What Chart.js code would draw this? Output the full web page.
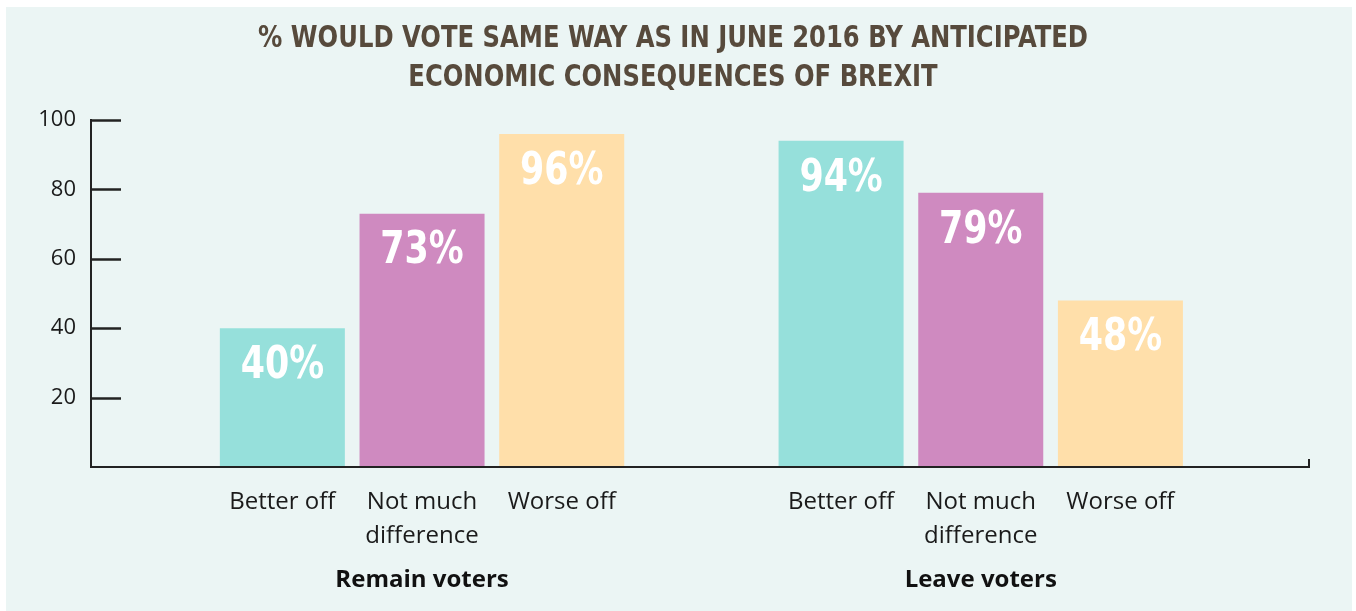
<!DOCTYPE html>
<html>
<head>
<meta charset="utf-8">
<script src="https://cdn.jsdelivr.net/npm/chart.js@4.4.1/dist/chart.umd.min.js"></script>
<style>
  html, body { margin: 0; padding: 0; background: #ffffff; }
  #wrap { width: 1356px; height: 611px; position: relative; }
</style>
</head>
<body>
<div id="wrap"><canvas id="c" width="1356" height="611"></canvas></div>
<script>
// ---- data ----
const titleLines = ['% WOULD VOTE SAME WAY AS IN JUNE 2016 BY ANTICIPATED', 'ECONOMIC CONSEQUENCES OF BREXIT'];
const groups = ['Remain voters', 'Leave voters'];
const categories = ['Better off', ['Not much', 'difference'], 'Worse off'];
const remainValues = [40, 73, 96];
const leaveValues = [94, 79, 48];
const yTicks = [0, 20, 40, 60, 80, 100];
const categoryColors = ['#96e0db', '#cf8ac0', '#ffdfaa'];

// build points: each group occupies category slots, with one empty slot between groups
const groupValues = [remainValues, leaveValues];
const slotsPerGroup = categories.length + 1;
const points = [];
const pointColors = [];
const catTickLabels = {};
groupValues.forEach((vals, g) => {
  vals.forEach((v, c) => {
    const pos = g * slotsPerGroup + c;
    points.push({ x: pos, y: v });
    pointColors.push(categoryColors[c]);
    catTickLabels[pos] = categories[c];
  });
});
const groupCenters = {};
groups.forEach((name, g) => { groupCenters[g * slotsPerGroup + (categories.length - 1) / 2] = name; });

const AXIS_COLOR = '#222222';
const TEXT_FONT = "'Open Sans', 'Noto Sans', sans-serif";
const COND_FONT = "'DejaVu Sans Condensed', 'Liberation Sans Narrow', sans-serif";

const panelPlugin = {
  id: 'panel',
  beforeDraw(chart) {
    const ctx = chart.ctx;
    ctx.save();
    ctx.fillStyle = '#ffffff';
    ctx.fillRect(0, 0, chart.width, chart.height);
    ctx.fillStyle = '#ebf5f4';
    ctx.fillRect(6, 7, chart.width - 10, chart.height - 7);
    ctx.restore();
  }
};

const titlePlugin = {
  id: 'condTitle',
  afterDraw(chart) {
    const ctx = chart.ctx;
    ctx.save();
    ctx.fillStyle = '#574a3c';
    ctx.font = "bold 31px " + COND_FONT;
    ctx.textAlign = 'center';
    ctx.textBaseline = 'middle';
    const cx = chart.width / 2 - 5;
    titleLines.forEach((line, i) => {
      ctx.save();
      ctx.translate(cx, 39 + i * 39);
      ctx.scale(0.87, 1);
      ctx.fillText(line, 0, 0);
      ctx.restore();
    });
    ctx.restore();
  }
};

const axisDecorPlugin = {
  id: 'axisDecor',
  afterDatasetsDraw(chart) {
    const ctx = chart.ctx;
    const area = chart.chartArea;
    const y = chart.scales.y;
    ctx.save();
    ctx.strokeStyle = AXIS_COLOR;
    ctx.lineWidth = 2.5;
    ctx.lineCap = 'butt';
    y.ticks.forEach(t => {
      if (t.value <= 0) return;
      const py = Math.round(y.getPixelForValue(t.value)) + 0.5;
      ctx.beginPath();
      ctx.moveTo(area.left - 1, py);
      ctx.lineTo(area.left + 30, py);
      ctx.stroke();
    });
    // baseline over bars + end cap
    ctx.lineWidth = 2;
    const by = y.getPixelForValue(0);
    ctx.beginPath();
    ctx.moveTo(area.left, by);
    ctx.lineTo(area.right, by);
    ctx.moveTo(area.right, by);
    ctx.lineTo(area.right, by - 8);
    ctx.stroke();
    ctx.restore();
  }
};

const valueLabelPlugin = {
  id: 'valueLabels',
  afterDatasetsDraw(chart) {
    const ctx = chart.ctx;
    const meta = chart.getDatasetMeta(0);
    ctx.save();
    ctx.fillStyle = '#ffffff';
    ctx.font = "bold 45px " + COND_FONT;
    ctx.textAlign = 'center';
    ctx.textBaseline = 'middle';
    meta.data.forEach((bar, i) => {
      const v = chart.data.datasets[0].data[i].y;
      ctx.save();
      ctx.translate(bar.x, bar.y + 38);
      ctx.scale(0.86, 1);
      ctx.fillText(v + '%', 0, 0);
      ctx.restore();
    });
    ctx.restore();
  }
};

new Chart(document.getElementById('c'), {
  type: 'bar',
  data: {
    datasets: [{
      data: points,
      backgroundColor: pointColors,
      borderWidth: 0,
      barPercentage: 0.895,
      categoryPercentage: 1.0
    }]
  },
  plugins: [panelPlugin, axisDecorPlugin, valueLabelPlugin, titlePlugin],
  options: {
    responsive: false,
    animation: false,
    devicePixelRatio: 1,
    layout: { padding: { left: 37, right: 47, top: 120, bottom: 13 } },
    plugins: {
      legend: { display: false },
      tooltip: { enabled: false },
      title: { display: false }
    },
    scales: {
      x: {
        type: 'linear',
        position: 'bottom',
        weight: 0,
        offset: false,
        min: -1.37,
        max: 7.35,
        bounds: 'data',
        grid: { display: false, drawTicks: false, offset: false },
        border: { display: true, color: AXIS_COLOR, width: 2 },
        afterBuildTicks: (scale) => { scale.ticks = Object.keys(catTickLabels).map(k => ({ value: Number(k) })); },
        afterFit: (scale) => { scale.height = 86; },
        ticks: {
          autoSkip: false,
          maxRotation: 0,
          padding: 18,
          color: '#1a1a1a',
          font: { family: TEXT_FONT, size: 24, lineHeight: 1.42 },
          callback: (v) => catTickLabels[v]
        }
      },
      group: {
        type: 'linear',
        axis: 'x',
        position: 'bottom',
        weight: 1,
        offset: false,
        min: -1.37,
        max: 7.35,
        bounds: 'data',
        grid: { display: false, drawTicks: false, offset: false },
        border: { display: false },
        afterBuildTicks: (scale) => { scale.ticks = Object.keys(groupCenters).map(k => ({ value: Number(k) })); },
        afterFit: (scale) => { scale.height = 45; },
        ticks: {
          autoSkip: false,
          maxRotation: 0,
          padding: 14,
          color: '#111111',
          font: { family: TEXT_FONT, size: 24, weight: 'bold', lineHeight: 1.1 },
          callback: (v) => groupCenters[v]
        }
      },
      y: {
        type: 'linear',
        min: 0,
        max: 100,
        afterBuildTicks: (scale) => { scale.ticks = yTicks.map(v => ({ value: v })); },
        afterFit: (scale) => { scale.width = 54; },
        grid: { display: false, drawTicks: false },
        border: { display: true, color: AXIS_COLOR, width: 2 },
        ticks: {
          padding: 15,
          color: '#1a1a1a',
          font: { family: TEXT_FONT, size: 22 },
          callback: (v) => (v === 0 ? '' : String(v))
        }
      }
    }
  }
});
</script>
</body>
</html>
